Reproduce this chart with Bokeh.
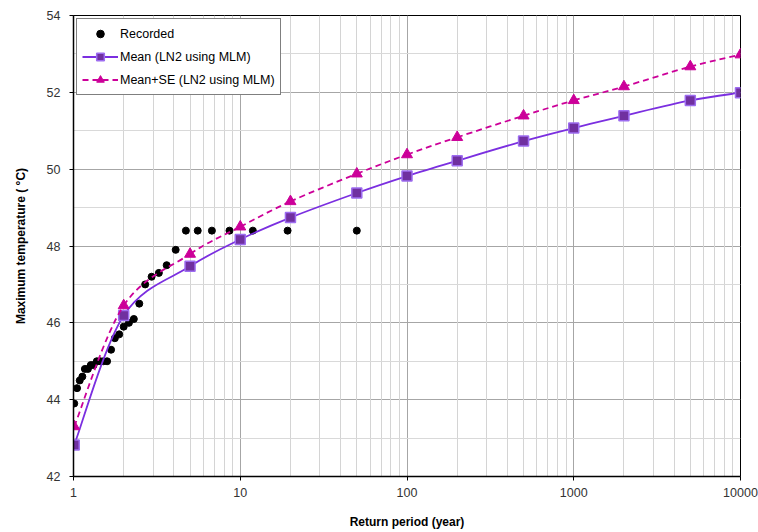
import numpy as np
from bokeh.plotting import figure
from bokeh.models import FixedTicker, Grid, Legend, LegendItem, Range1d
from bokeh.embed import file_html
from bokeh.resources import INLINE

rec_T = [1.01, 1.05, 1.09, 1.13, 1.17, 1.22, 1.27, 1.32, 1.38, 1.445, 1.51,
         1.59, 1.68, 1.77, 1.88, 2.00, 2.15, 2.30, 2.48, 2.69, 2.94, 3.25,
         3.62, 4.10, 4.72, 5.56, 6.76, 8.62, 11.90, 19.23, 50.0]
rec_Y = [43.9, 44.3, 44.5, 44.6, 44.8, 44.8, 44.9, 44.9, 45.0, 45.0, 45.0,
         45.0, 45.3, 45.6, 45.7, 45.9, 46.0, 46.1, 46.5, 47.0, 47.2, 47.3,
         47.5, 47.9, 48.4, 48.4, 48.4, 48.4, 48.4, 48.4, 48.4]

fit_T = [1.01, 2, 5, 10, 20, 50, 100, 200, 500, 1000, 2000, 5000, 10000]
mean_Y = [42.82, 46.19, 47.47, 48.17, 48.74, 49.38, 49.82, 50.22, 50.73,
          51.07, 51.39, 51.79, 51.99]
se_Y = [43.30, 46.45, 47.79, 48.50, 49.16, 49.88, 50.38, 50.83, 51.39,
        51.79, 52.15, 52.67, 52.98]

x_major = [1, 10, 100, 1000, 10000]
x_minor = [m * d for d in [1, 10, 100, 1000] for m in range(2, 10)]
y_major = [42, 44, 46, 48, 50, 52, 54]
y_minor = [43, 45, 47, 49, 51, 53]

FONT = "Liberation Sans"

def smooth_segments(T, Y):
    """Bezier control points (Catmull-Rom style smoothing) in log-x space."""
    lx = np.log10(np.array(T, dtype=float))
    y = np.array(Y, dtype=float)
    n = len(lx)
    out = {k: [] for k in ["x0", "y0", "x1", "y1", "cx0", "cy0", "cx1", "cy1"]}
    for i in range(n - 1):
        im = max(i - 1, 0)
        ip2 = min(i + 2, n - 1)
        c0x = lx[i] + (lx[i + 1] - lx[im]) / 6.0
        c0y = y[i] + (y[i + 1] - y[im]) / 6.0
        c1x = lx[i + 1] - (lx[ip2] - lx[i]) / 6.0
        c1y = y[i + 1] - (y[ip2] - y[i]) / 6.0
        out["x0"].append(10 ** lx[i]); out["y0"].append(y[i])
        out["x1"].append(10 ** lx[i + 1]); out["y1"].append(y[i + 1])
        out["cx0"].append(10 ** c0x); out["cy0"].append(c0y)
        out["cx1"].append(10 ** c1x); out["cy1"].append(c1y)
    return out

p = figure(width=758, height=532, x_axis_type="log",
           x_range=Range1d(1, 10000), y_range=Range1d(42, 54),
           output_backend="svg", toolbar_location=None,
           min_border_left=73, min_border_right=18, min_border_top=15,
           min_border_bottom=56)
p.background_fill_color = "white"
p.border_fill_color = "white"
p.outline_line_color = "black"
p.outline_line_width = 1

# grids
p.xgrid.ticker = FixedTicker(ticks=x_major)
p.ygrid.ticker = FixedTicker(ticks=y_major)
for g in (p.xgrid[0], p.ygrid[0]):
    g.grid_line_color = "#a6a6a6"
    g.grid_line_width = 1
p.add_layout(Grid(dimension=0, ticker=FixedTicker(ticks=x_minor),
                  grid_line_color="#d4d4d4", grid_line_width=1, level="underlay"))
p.add_layout(Grid(dimension=1, ticker=FixedTicker(ticks=y_minor),
                  grid_line_color="#d9d9d9", grid_line_width=1, level="underlay"))

# axes
p.xaxis.ticker = FixedTicker(ticks=x_major)
p.xaxis.major_label_overrides = {t: str(t) for t in x_major}
p.yaxis.ticker = FixedTicker(ticks=y_major)
for ax in (p.xaxis[0], p.yaxis[0]):
    ax.axis_line_color = "black"
    ax.axis_line_width = 1.5
    ax.major_tick_line_color = "black"
    ax.major_tick_out = 4
    ax.major_tick_in = 0
    ax.minor_tick_out = 0
    ax.minor_tick_in = 0
    ax.major_label_text_font = FONT
    ax.major_label_text_font_size = "12.5px"
    ax.major_label_text_color = "#333333"
    ax.axis_label_text_font = FONT
    ax.axis_label_text_font_size = "12px"
    ax.axis_label_text_font_style = "bold"
    ax.axis_label_text_color = "black"
p.xaxis.axis_label = "Return period (year)"
p.yaxis.axis_label = "Maximum temperature ( °C)"
p.xaxis.major_label_standoff = 7
p.xaxis.axis_label_standoff = 15
p.yaxis.major_label_standoff = 9
p.yaxis.axis_label_standoff = 16

# data
r_rec = p.scatter(rec_T, rec_Y, marker="circle", size=7, fill_color="black",
                  line_color="black")

ms = smooth_segments(fit_T, mean_Y)
r_mean_line = p.bezier(line_color="#7B2FE0", line_width=1.8, **ms)
r_mean_pts = p.scatter(fit_T, mean_Y, marker="square", size=10,
                       fill_color="#7030A0", line_color="#9D6CF0", line_width=1.5)

ss = smooth_segments(fit_T, se_Y)
r_se_line = p.bezier(line_color="#CC0099", line_width=1.8, line_dash="6 4", **ss)
r_se_pts = p.scatter(fit_T, se_Y, marker="triangle", size=11,
                     fill_color="#CC0099", line_color="#CC0099")

legend = Legend(items=[
    LegendItem(label="Recorded", renderers=[r_rec]),
    LegendItem(label="Mean (LN2 using MLM)", renderers=[r_mean_line, r_mean_pts]),
    LegendItem(label="Mean+SE (LN2 using MLM)", renderers=[r_se_line, r_se_pts]),
], location="top_left")
legend.margin = 3
legend.padding = 5
legend.spacing = 4
legend.glyph_width = 36
legend.glyph_height = 19
legend.label_height = 19
legend.label_standoff = 2
legend.label_text_font = FONT
legend.label_text_font_size = "12.5px"
legend.label_text_color = "black"
legend.border_line_color = "black"
legend.border_line_width = 1
legend.background_fill_color = "white"
legend.background_fill_alpha = 1
p.add_layout(legend)

open("out.html", "w").write(file_html(p, INLINE))
